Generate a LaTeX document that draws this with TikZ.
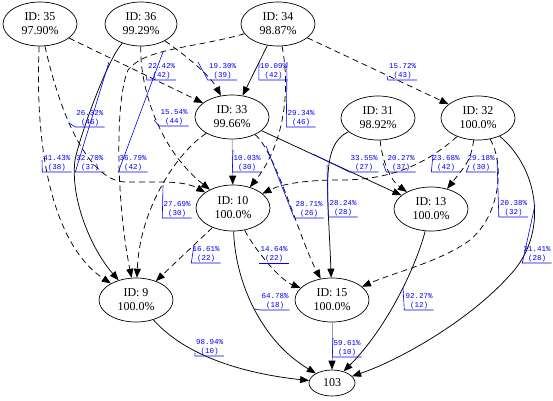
\documentclass[tikz,border=0pt]{standalone}
\usepackage{fontspec}
\setmainfont{Liberation Serif}
\newfontfamily\labfont{Liberation Mono}
\usetikzlibrary{arrows.meta,shapes.geometric}
\begin{document}
\begin{tikzpicture}[x=1pt,y=-1pt,
  nd/.style={ellipse, draw, line width=0.7pt, inner sep=0pt, minimum width=74pt, minimum height=44pt, font=\fontsize{12}{14}\selectfont, align=center},
  lbl/.style={font=\labfont\fontsize{7.5}{9}\selectfont, text=blue, align=center, inner xsep=0pt, inner ysep=0.5pt, minimum width=29pt, anchor=south},
  lead/.style={draw=blue, line width=0.6pt},
  sarr/.style={draw, line width=0.75pt, -{Triangle[length=9pt,width=7pt]}},
  darr/.style={sarr, dash pattern=on 6pt off 4pt},
  garr/.style={draw=black!40, line width=0.75pt, -{Triangle[length=9pt,width=7pt,color=black]}},
]
\useasboundingbox (0,0) rectangle (553,400);
% nodes
\node[nd] (n35) at (40,24) {ID: 35\\97.90\%};
\node[nd, minimum width=72pt] (n36) at (141,24) {ID: 36\\99.29\%};
\node[nd] (n34) at (278,24) {ID: 34\\98.87\%};
\node[nd] (n33) at (232,117) {ID: 33\\99.66\%};
\node[nd] (n31) at (378,118) {ID: 31\\98.92\%};
\node[nd] (n32) at (478,118) {ID: 32\\100.0\%};
\node[nd, minimum height=46pt] (n10) at (233,208) {ID: 10\\100.0\%};
\node[nd] (n13) at (431,209) {ID: 13\\100.0\%};
\node[nd] (n9) at (136,300) {ID: 9\\100.0\%};
\node[nd] (n15) at (332,300) {ID: 15\\100.0\%};
\node[nd, minimum width=46pt, minimum height=26pt] (n103) at (332,383) {103};
% edges
\draw[darr] (n34) -- (n32);
\draw[sarr] (n34) -- (n33);
\draw[darr] (n36) .. controls (185,55) and (210,75) .. (n33);
\draw[darr] (n35) -- (n33);
\draw[darr] (n35) .. controls (58,105) and (85,180) .. (125,182) -- (160,182) .. controls (182,182) and (192,185) .. (n10);
\draw[darr] (n35) .. controls (34,170) and (60,250) .. (n9);
\draw[sarr] (n36) .. controls (108,58) and (80,135) .. (75,160) .. controls (70,200) and (92,250) .. (n9);
\draw[darr] (n34) .. controls (195,48) and (145,48) .. (128,70) .. controls (115,100) and (116,200) .. (n9);
\draw[darr] (n33) .. controls (180,150) and (140,205) .. (n9);
\draw[darr] (n10) -- (n9);
\draw[darr] (n36) .. controls (140,90) and (160,150) .. (n10);
\draw[garr] (n33) -- (n10);
\draw[darr] (n34) .. controls (292,100) and (280,150) .. (n10);
\draw[darr] (n32) .. controls (425,165) and (390,180) .. (340,180) .. controls (300,180) and (280,185) .. (n10);
\draw[sarr] (n33) -- (n13);
\draw[darr] (n31) .. controls (382,160) and (390,180) .. (n13);
\draw[darr] (n32) .. controls (470,160) .. (n13);
\draw[darr] (n33) .. controls (275,150) and (300,240) .. (n15);
\draw[sarr] (n31) .. controls (320,145) and (328,190) .. (n15);
\draw[darr] (n10) .. controls (255,250) and (280,280) .. (n15);
\draw[darr] (n32) .. controls (505,165) and (500,215) .. (470,240) .. controls (440,262) and (395,272) .. (n15);
\draw[sarr] (n32) .. controls (540,170) and (548,235) .. (510,275) .. controls (470,320) and (400,360) .. (n103);
\draw[sarr] (n13) .. controls (415,270) and (385,330) .. (n103);
\draw[garr] (n15) -- (n103);
\draw[sarr] (n10) .. controls (235,280) and (260,340) .. (n103);
\draw[sarr] (n9) .. controls (180,350) and (230,372) .. (n103);
% labels
\node[lbl] (l1) at (402.5,80) {15.72\%\\(43)};
\node[lbl] (l2) at (273.5,80) {10.09\%\\(42)};
\node[lbl] (l3) at (222.5,80) {19.30\%\\(39)};
\node[lbl] (l4) at (161.5,80) {22.42\%\\(42)};
\node[lbl] (l5) at (90,127) {26.32\%\\(46)};
\node[lbl] (l6) at (174,126) {15.54\%\\(44)};
\node[lbl] (l7) at (301,127) {29.34\%\\(46)};
\node[lbl] (l8) at (57,172) {41.43\%\\(38)};
\node[lbl] (l9) at (90,172) {32.70\%\\(37)};
\node[lbl] (l10) at (133,172) {36.79\%\\(42)};
\node[lbl] (l11) at (247,172) {10.03\%\\(30)};
\node[lbl] (l12) at (177,218) {27.69\%\\(30)};
\node[lbl] (l13) at (364,172) {33.55\%\\(27)};
\node[lbl] (l14) at (401,172) {20.27\%\\(37)};
\node[lbl] (l15) at (446,172) {23.68\%\\(42)};
\node[lbl] (l16) at (481,172) {29.18\%\\(30)};
\node[lbl] (l17) at (309,218) {28.71\%\\(26)};
\node[lbl] (l18) at (343,217) {28.24\%\\(28)};
\node[lbl] (l19) at (513.5,217) {20.38\%\\(32)};
\node[lbl] (l20) at (537,263) {21.41\%\\(28)};
\node[lbl] (l21) at (206,263) {16.61\%\\(22)};
\node[lbl] (l22) at (274,263) {14.64\%\\(22)};
\node[lbl] (l23) at (275,310) {64.78\%\\(18)};
\node[lbl] (l24) at (419,310) {92.27\%\\(12)};
\node[lbl] (l25) at (347,357) {59.61\%\\(10)};
\node[lbl] (l26) at (209.5,356) {98.94\%\\(10)};
% leader end points
\coordinate (m1) at (387,76);
\coordinate (m2) at (259,63);
\coordinate (m3) at (198,62);
\coordinate (m4) at (146,75);
\coordinate (m5) at (69,123);
\coordinate (m6) at (154,120);
\coordinate (m7) at (287,62);
\coordinate (m8) at (42,160);
\coordinate (m9) at (109,62);
\coordinate (m10) at (163,52);
\coordinate (m11) at (233,150);
\coordinate (m12) at (163,185);
\coordinate (m13) at (313,154);
\coordinate (m14) at (383,163);
\coordinate (m15) at (433,155);
\coordinate (m16) at (469,165);
\coordinate (m17) at (266,146);
\coordinate (m18) at (327,165);
\coordinate (m19) at (497,158);
\coordinate (m20) at (535,205);
\coordinate (m21) at (194,245);
\coordinate (m23) at (254,309);
\coordinate (m24) at (403,288);
\coordinate (m25) at (333,338);
\coordinate (m26) at (195,353);
% underlines and leaders
\foreach \i in {1,2,3,4,5,6,7,8,9,10,11,12,13,14,15,16,17,18,19,20,21,23,24,25,26}{
  \draw[lead] (m\i) -- (l\i.south west) -- (l\i.south east);
}
\draw[lead] (l22.south west) -- (l22.south east);
\end{tikzpicture}
\end{document}
